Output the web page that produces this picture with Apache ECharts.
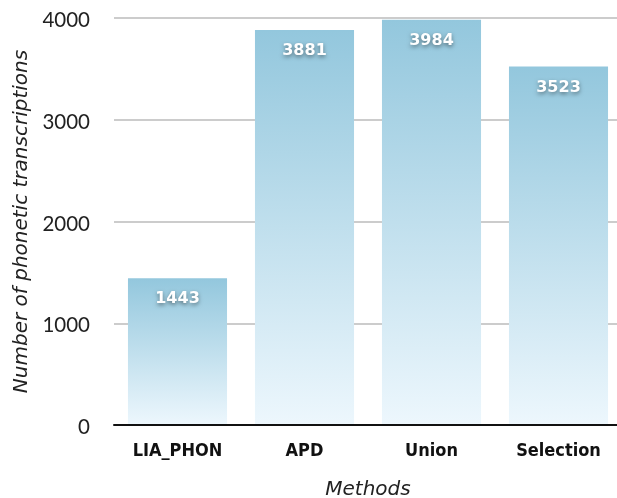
<!DOCTYPE html>
<html><head><meta charset="utf-8">
<script src="https://cdn.jsdelivr.net/npm/echarts@6/dist/echarts.min.js"></script>
<style>html,body{margin:0;padding:0;background:#fff}#c{width:617px;height:498px}</style>
</head><body><div id="c"></div>
<script>
const categories = ["LIA_PHON", "APD", "Union", "Selection"];
const values = [1443, 3881, 3984, 3523];
const yTicks = [0, 1000, 2000, 3000, 4000];

const chart = echarts.init(document.getElementById('c'), null, {renderer: 'canvas'});
chart.setOption({
  animation: false,
  grid: {left: 114, width: 508, top: 18, bottom: 73, outerBoundsMode: 'none', containLabel: false},
  xAxis: {
    type: 'category',
    data: categories,
    z: 5,
    name: 'Methods',
    nameLocation: 'middle',
    nameGap: 55,
    nameTextStyle: {fontFamily: 'DejaVu Sans', fontStyle: 'italic', fontSize: 20, color: '#222'},
    axisLine: {lineStyle: {color: '#111', width: 2}},
    axisTick: {show: false},
    axisLabel: {fontFamily: 'DejaVu Sans Condensed, DejaVu Sans', fontWeight: 'bold', fontSize: 18, color: '#111', margin: 17}
  },
  yAxis: {
    type: 'value',
    min: 0, max: 4000, interval: 1000,
    name: 'Number of phonetic transcriptions',
    nameLocation: 'middle',
    nameGap: 82,
    nameTextStyle: {fontFamily: 'DejaVu Sans', fontStyle: 'italic', fontSize: 20, color: '#222'},
    axisLine: {show: false},
    axisTick: {show: false},
    axisLabel: {fontFamily: 'Lato', fontSize: 20.5, color: '#222', margin: 24,
      verticalAlign: 'top', lineHeight: 5,
      formatter: v => yTicks.includes(v) ? String(v) : ''},
    splitLine: {lineStyle: {color: '#bbbbbb', width: 1.5}}
  },
  series: [{
    type: 'bar',
    data: values,
    barWidth: '78%',
    itemStyle: {
      color: new echarts.graphic.LinearGradient(0, 0, 0, 1, [
        {offset: 0, color: '#93c7dd'},
        {offset: 1, color: '#edf7fd'}
      ])
    },
    label: {
      show: true, position: 'insideTop', distance: 13,
      color: '#fff', fontFamily: 'DejaVu Sans', fontWeight: 'bold', fontSize: 16,
      textShadowColor: 'rgba(0,0,0,0.45)', textShadowBlur: 4, textShadowOffsetY: 2
    }
  }]
});
</script></body></html>
